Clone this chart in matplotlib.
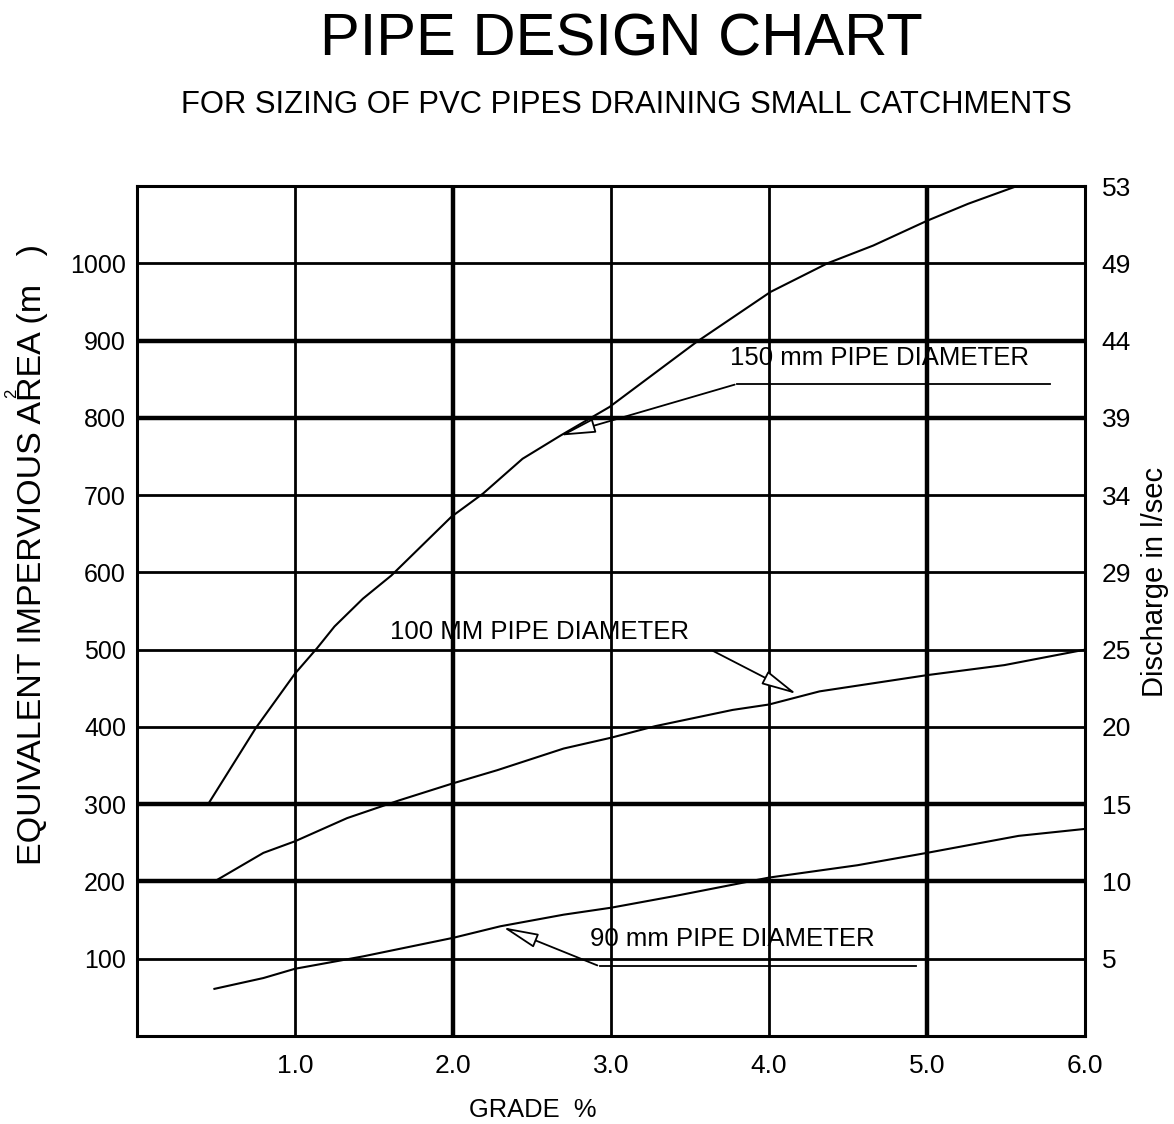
import matplotlib
matplotlib.use("Agg")
import matplotlib.pyplot as plt

# grade % (x) and equivalent impervious area m2 (y)
x_150 = [0.45, 0.75, 1.0, 1.14, 1.25, 1.43, 1.61, 1.99, 2.19, 2.44, 2.68, 2.99, 3.54, 4.01, 4.37, 4.66, 5.0, 5.26, 5.57]
y_150 = [300, 398, 469, 502, 530, 566, 596, 672, 702, 747, 777, 814, 898, 963, 1000, 1023, 1055, 1077, 1100]

x_100 = [0.49, 0.80, 1.0, 1.33, 1.66, 2.0, 2.28, 2.70, 3.0, 3.28, 3.77, 4.0, 4.32, 5.0, 5.49, 6.0]
y_100 = [200, 237, 252, 282, 305, 327, 344, 372, 386, 401, 422, 429, 446, 467, 480, 500]

x_90 = [0.49, 0.80, 1.0, 1.43, 2.0, 2.30, 2.70, 3.0, 3.40, 4.0, 4.56, 5.0, 5.58, 6.0]
y_90 = [61, 75, 87, 103, 127, 142, 157, 166, 181, 205, 221, 237, 259, 268]

x_ticks = [1, 2, 3, 4, 5, 6]
x_labels = ["1.0", "2.0", "3.0", "4.0", "5.0", "6.0"]
y_ticks = [100, 200, 300, 400, 500, 600, 700, 800, 900, 1000]
right_ticks = [100, 200, 300, 400, 500, 600, 700, 800, 900, 1000, 1100]
right_labels = ["5", "10", "15", "20", "25", "29", "34", "39", "44", "49", "53"]

thick_x = [2, 5]
thick_y = [200, 300, 800, 900]

plt.rcParams['font.family'] = ["Liberation Sans", "DejaVu Sans"]

fig = plt.figure(figsize=(11.74, 11.24), dpi=100)
ax = fig.add_axes([0.1167, 0.0783, 0.8075, 0.7562])
ax.set_xlim(0, 6)
ax.set_ylim(0, 1100)

# grid
for xv in x_ticks[:-1]:
    ax.axvline(xv, color="black", lw=3.2 if xv in thick_x else 2.0, zorder=1)
for yv in y_ticks:
    ax.axhline(yv, color="black", lw=3.2 if yv in thick_y else 2.0, zorder=1)

for s in ax.spines.values():
    s.set_linewidth(2.2)

# curves
ax.plot(x_150, y_150, color="black", lw=1.5, zorder=3)
ax.plot(x_100, y_100, color="black", lw=1.5, zorder=3)
ax.plot(x_90, y_90, color="black", lw=1.5, zorder=3)

ax.set_xticks(x_ticks)
ax.set_xticklabels(x_labels, fontsize=19)
ax.set_yticks(y_ticks)
ax.set_yticklabels([str(v) for v in y_ticks], fontsize=18)
ax.tick_params(length=0, pad=8)
ax.tick_params(axis="x", pad=13)

ax2 = ax.twinx()
ax2.set_ylim(0, 1100)
ax2.set_yticks(right_ticks)
ax2.set_yticklabels(right_labels, fontsize=19)
ax2.tick_params(length=0, pad=12)
for s in ax2.spines.values():
    s.set_visible(False)

# labels for pipes, with leaders and hollow arrow heads
arrow = dict(arrowstyle="-|>,head_length=2.2,head_width=0.45", fc="white", ec="black", lw=1.3)

ax.text(3.75, 877, "150 mm PIPE DIAMETER", fontsize=18.5, va="center", zorder=4)
ax.plot([5.78, 3.80], [844, 844], color="black", lw=1.3, zorder=4)
ax.annotate("", xy=(2.66, 776), xytext=(3.80, 844), arrowprops=arrow, zorder=4)

ax.text(1.60, 523, "100 MM PIPE DIAMETER", fontsize=18.5, va="center", zorder=4)
ax.annotate("", xy=(4.19, 441), xytext=(3.63, 500), arrowprops=arrow, zorder=4)

ax.text(2.87, 125, "90 mm PIPE DIAMETER", fontsize=18.5, va="center", zorder=4)
ax.plot([4.93, 2.93], [90, 90], color="black", lw=1.3, zorder=4)
ax.annotate("", xy=(2.30, 142), xytext=(2.93, 90), arrowprops=arrow, zorder=4)

# titles and axis labels
fig.text(621 / 1174, 1 - 40 / 1124, "PIPE DESIGN CHART", fontsize=43, ha="center", va="center")
fig.text(626 / 1174, 1 - 105 / 1124, "FOR SIZING OF PVC PIPES DRAINING SMALL CATCHMENTS",
         fontsize=22.3, ha="center", va="center")
fig.text(33 / 1174, 1 - 555 / 1124, "EQUIVALENT IMPERVIOUS AREA (m   )", fontsize=24.5,
         rotation=90, ha="center", va="center")
fig.text(12 / 1174, 1 - 393 / 1124, "2", fontsize=12, rotation=90, ha="center", va="center")
fig.text(1155 / 1174, 1 - 582 / 1124, "Discharge in l/sec", fontsize=21,
         rotation=90, ha="center", va="center")
fig.text(533 / 1174, 1 - 1110 / 1124, "GRADE  %", fontsize=18.4,
         ha="center", va="center")

fig.savefig("out.png", dpi=100)
